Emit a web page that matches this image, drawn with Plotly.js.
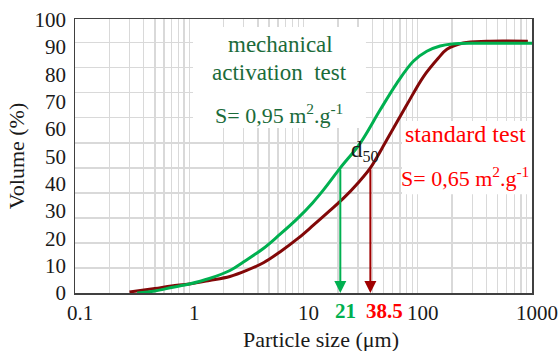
<!DOCTYPE html>
<html>
<head>
<meta charset="utf-8">
<script src="https://cdn.plot.ly/plotly-3.0.1.min.js"></script>
<style>html,body{margin:0;padding:0;background:#fff;}#chart{width:558px;height:351px;}</style>
</head>
<body>
<div id="chart"></div>
<script>
// Particle size (µm) and cumulative volume (%) — mechanical activation test
var mechSize = [0.35, 0.5, 0.7, 1.0, 1.5, 2.27, 3.0, 4.45, 6.0, 8.7, 12, 14.9, 21, 31.3, 46.8, 65.5, 91.5, 120, 157, 200, 300, 500, 1050];
var mechVolume = [0, 0.8, 2.2, 3.6, 5.8, 9.0, 12.5, 17.8, 22.8, 29.4, 36.0, 41.1, 50, 59.8, 73.1, 83.8, 92.6, 96.6, 98.7, 99.5, 99.8, 99.8, 99.8];
// Standard test
var stdSize = [0.3, 0.5, 0.7, 1.0, 1.5, 2.27, 3.18, 4.5, 6.22, 9, 12.2, 17, 22.3, 30, 38.5, 53.5, 80, 112, 151, 180, 250, 400, 920];
var stdVolume = [0.4, 1.8, 2.8, 3.6, 5.0, 6.6, 9.0, 12.2, 16.4, 21.9, 27.1, 32.9, 37.8, 44.0, 50, 61.1, 75.1, 86.4, 93.8, 97.4, 99.9, 100.6, 100.6];
// d50 values
var d50Mech = 21;
var d50Std = 38.5;
var xTickVals = [0.1, 1, 10, 100, 1000];
var xTickText = ['0.1', '1', '10', '100', '1000'];
var yTickVals = [0, 10, 20, 30, 40, 50, 60, 70, 80, 90, 100];

var serif = 'Liberation Serif';
var W = 558, H = 351, L = 75, R = 26, T = 19, B = 58;
var pw = W - L - R, ph = H - T - B;
function px(x) { return (x - L) / pw; }
function py(y) { return (H - B - y) / ph; }

var traces = [
  {x: stdSize, y: stdVolume, type: 'scatter', mode: 'lines', line: {color: '#820808', width: 3, shape: 'spline', smoothing: 1}, hoverinfo: 'skip', showlegend: false},
  {x: mechSize, y: mechVolume, type: 'scatter', mode: 'lines', line: {color: '#00B050', width: 3, shape: 'spline', smoothing: 1}, hoverinfo: 'skip', showlegend: false}
];

var annFont = function (size, color) { return {family: serif, size: size, color: color}; };
var darkGreen = '#1B6B3A';

var layout = {
  width: W, height: H,
  margin: {l: L, r: R, t: T, b: B},
  paper_bgcolor: '#ffffff', plot_bgcolor: '#ffffff',
  showlegend: false,
  xaxis: {
    type: 'log', range: [-1, 3],
    tickmode: 'array', tickvals: xTickVals, ticktext: xTickText,
    tickfont: {family: serif, size: 21, color: '#1a1a1a'},
    ticklabelshift: 5, ticklabeloverflow: 'allow',
    showgrid: true, gridcolor: '#D9D9D9', gridwidth: 1.3,
    minor: {dtick: 'D1', showgrid: true, gridcolor: '#D9D9D9', gridwidth: 1.3},
    showline: true, linecolor: '#404040', linewidth: 1.5, mirror: true,
    ticks: '', zeroline: false
  },
  yaxis: {
    range: [0, 109.5], dtick: 10, tick0: 0,
    showticklabels: false, ticks: '',
    showgrid: true, gridcolor: '#D9D9D9', gridwidth: 1.3,
    showline: true, linecolor: '#404040', linewidth: 1.5, mirror: true,
    zeroline: false
  },
  yaxis2: {
    overlaying: 'y', side: 'left', range: [0, 100.3],
    tickmode: 'array', tickvals: yTickVals,
    tickfont: {family: serif, size: 21, color: '#1a1a1a'},
    ticklabelstandoff: 8,
    showgrid: false, zeroline: false, showline: false, ticks: '',
    title: {text: 'Volume (%)', font: {family: serif, size: 22, color: '#1a1a1a'}, standoff: 3}
  },
  shapes: [
    {type: 'rect', xref: 'x', yref: 'y', x0: 1.079, x1: 35.2, y0: 65.9, y1: 106.3, fillcolor: '#ffffff', line: {width: 0}, layer: 'between'},
    {type: 'rect', xref: 'x', yref: 'y', x0: 72.8, x1: 1000, y0: 39.5, y1: 68.7, fillcolor: '#ffffff', line: {width: 0}, layer: 'between'}
  ],
  annotations: [
    {x: Math.log10(d50Mech), y: 0, ax: Math.log10(d50Mech), ay: 50, xref: 'x', yref: 'y', axref: 'x', ayref: 'y', showarrow: true, arrowhead: 2, arrowsize: 1.2, arrowwidth: 2, arrowcolor: '#00B050', text: ''},
    {x: Math.log10(d50Std), y: 0, ax: Math.log10(d50Std), ay: 50, xref: 'x', yref: 'y', axref: 'x', ayref: 'y', showarrow: true, arrowhead: 2, arrowsize: 1.2, arrowwidth: 2, arrowcolor: '#A00000', text: ''},
    {xref: 'paper', yref: 'paper', x: px(345), y: py(311), text: '<b>' + d50Mech + '</b>', showarrow: false, font: annFont(21, '#00B050'), xanchor: 'center', yanchor: 'middle'},
    {xref: 'paper', yref: 'paper', x: px(384), y: py(311), text: '<b>' + d50Std + '</b>', showarrow: false, font: annFont(21, '#FF0000'), xanchor: 'center', yanchor: 'middle'},
    {xref: 'paper', yref: 'paper', x: px(321), y: py(339), text: 'Particle size (μm)', showarrow: false, font: annFont(22, '#1a1a1a'), xanchor: 'center', yanchor: 'middle'},
    {xref: 'paper', yref: 'paper', x: px(280), y: py(44), text: 'mechanical', showarrow: false, font: annFont(23, darkGreen), xanchor: 'center', yanchor: 'middle'},
    {xref: 'paper', yref: 'paper', x: px(279), y: py(72), text: 'activation&nbsp; test', showarrow: false, font: annFont(23, darkGreen), xanchor: 'center', yanchor: 'middle'},
    {xref: 'paper', yref: 'paper', x: px(279), y: py(114), text: 'S= 0,95 m<sup>2</sup>.g<sup>-1</sup>', showarrow: false, font: annFont(22, darkGreen), xanchor: 'center', yanchor: 'middle'},
    {xref: 'paper', yref: 'paper', x: px(465), y: py(134), text: 'standard test', showarrow: false, font: annFont(24, '#FF0000'), xanchor: 'center', yanchor: 'middle'},
    {xref: 'paper', yref: 'paper', x: px(465), y: py(177), text: 'S= 0,65 m<sup>2</sup>.g<sup>-1</sup>', showarrow: false, font: annFont(22, '#FF0000'), xanchor: 'center', yanchor: 'middle'},
    {xref: 'paper', yref: 'paper', x: px(365), y: py(151), text: 'd<sub>50</sub>', showarrow: false, font: annFont(23, '#1a1a1a'), xanchor: 'center', yanchor: 'middle'}
  ]
};

// empty trace bound to the label axis so that it is drawn
traces.push({x: [1], y: [null], yaxis: 'y2', type: 'scatter', mode: 'lines', hoverinfo: 'skip', showlegend: false});

Plotly.newPlot('chart', traces, layout, {staticPlot: true, displayModeBar: false});
</script>
</body>
</html>
